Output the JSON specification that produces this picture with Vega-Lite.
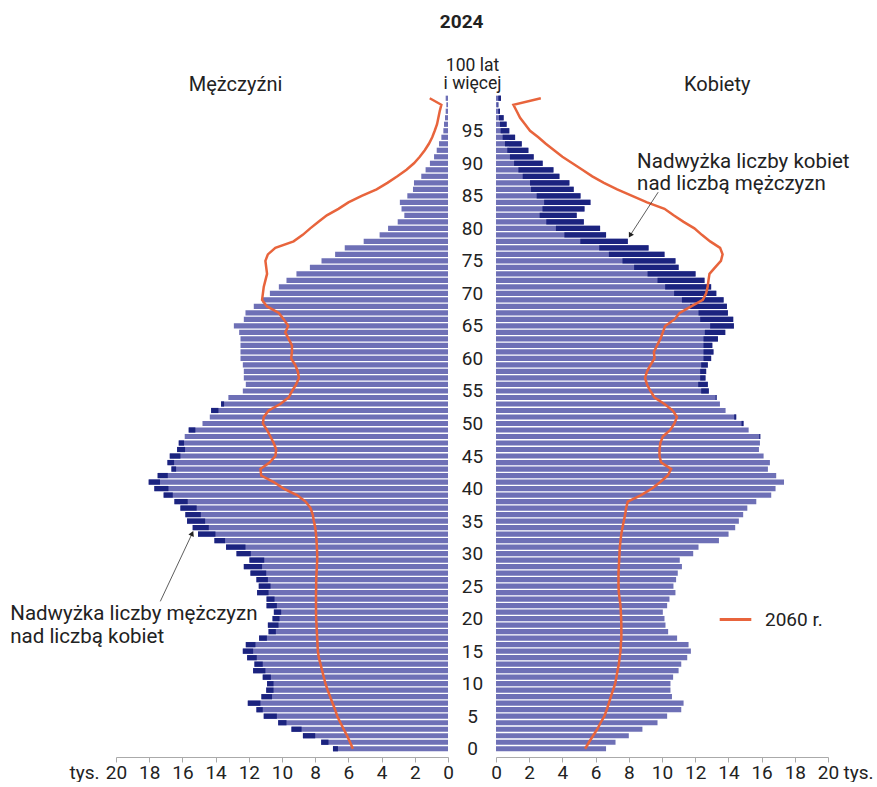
{
  "$schema": "https://vega.github.io/schema/vega-lite/v6.json",
  "padding": {"left": 10, "top": 13, "right": 2, "bottom": 0},
  "bounds": "flush",
  "spacing": 48,
  "title": {"text": "2024", "fontSize": 19, "fontWeight": "bold", "color": "#222", "anchor": "middle", "offset": 24, "dx": 20},
  "config": {"view": {"stroke": null}, "font": "Roboto"},
  "resolve": {"scale": {"x": "independent", "y": "independent", "color": "independent"}, "legend": {"color": "independent"}},
  "datasets": {
    "pop": [
      {"age":0,"m":6.93,"w":6.63,"m60":5.73,"w60":5.37},
      {"age":1,"m":7.64,"w":7.2,"m60":5.9,"w60":5.6},
      {"age":2,"m":8.74,"w":8.0,"m60":6.08,"w60":5.85},
      {"age":3,"m":9.43,"w":8.82,"m60":6.28,"w60":6.1},
      {"age":4,"m":10.23,"w":9.73,"m60":6.48,"w60":6.3},
      {"age":5,"m":11.1,"w":10.31,"m60":6.67,"w60":6.53},
      {"age":6,"m":11.54,"w":11.16,"m60":6.8,"w60":6.67},
      {"age":7,"m":12.06,"w":11.3,"m60":6.95,"w60":6.8},
      {"age":8,"m":11.24,"w":10.6,"m60":7.1,"w60":6.92},
      {"age":9,"m":10.95,"w":10.51,"m60":7.25,"w60":7.05},
      {"age":10,"m":10.9,"w":10.51,"m60":7.38,"w60":7.18},
      {"age":11,"m":11.16,"w":10.67,"m60":7.48,"w60":7.25},
      {"age":12,"m":11.74,"w":11.0,"m60":7.58,"w60":7.32},
      {"age":13,"m":11.66,"w":11.16,"m60":7.68,"w60":7.4},
      {"age":14,"m":12.1,"w":11.52,"m60":7.78,"w60":7.45},
      {"age":15,"m":12.36,"w":11.74,"m60":7.84,"w60":7.5},
      {"age":16,"m":12.18,"w":11.6,"m60":7.86,"w60":7.52},
      {"age":17,"m":11.38,"w":10.91,"m60":7.88,"w60":7.55},
      {"age":18,"m":10.81,"w":10.37,"m60":7.9,"w60":7.55},
      {"age":19,"m":10.85,"w":10.21,"m60":7.92,"w60":7.55},
      {"age":20,"m":10.57,"w":10.15,"m60":7.94,"w60":7.54},
      {"age":21,"m":10.49,"w":10.05,"m60":7.95,"w60":7.52},
      {"age":22,"m":10.93,"w":10.31,"m60":7.95,"w60":7.5},
      {"age":23,"m":10.93,"w":10.45,"m60":7.95,"w60":7.45},
      {"age":24,"m":11.5,"w":10.81,"m60":7.95,"w60":7.4},
      {"age":25,"m":11.4,"w":10.69,"m60":7.94,"w60":7.38},
      {"age":26,"m":11.54,"w":10.85,"m60":7.94,"w60":7.38},
      {"age":27,"m":11.9,"w":10.95,"m60":7.92,"w60":7.38},
      {"age":28,"m":12.3,"w":11.2,"m60":7.9,"w60":7.4},
      {"age":29,"m":11.96,"w":11.07,"m60":7.88,"w60":7.42},
      {"age":30,"m":12.74,"w":11.88,"m60":7.88,"w60":7.44},
      {"age":31,"m":13.37,"w":12.2,"m60":7.9,"w60":7.46},
      {"age":32,"m":14.07,"w":13.43,"m60":7.92,"w60":7.5},
      {"age":33,"m":15.06,"w":14.01,"m60":7.95,"w60":7.55},
      {"age":34,"m":15.38,"w":14.41,"m60":8.0,"w60":7.62},
      {"age":35,"m":15.72,"w":14.63,"m60":8.08,"w60":7.7},
      {"age":36,"m":15.82,"w":14.89,"m60":8.15,"w60":7.78},
      {"age":37,"m":16.12,"w":15.14,"m60":8.28,"w60":7.84},
      {"age":38,"m":16.48,"w":15.68,"m60":8.58,"w60":7.94},
      {"age":39,"m":17.13,"w":16.58,"m60":9.1,"w60":8.74},
      {"age":40,"m":17.69,"w":16.84,"m60":9.9,"w60":9.4},
      {"age":41,"m":18.03,"w":17.35,"m60":10.5,"w60":9.9},
      {"age":42,"m":17.49,"w":16.88,"m60":11.25,"w60":10.35},
      {"age":43,"m":16.66,"w":16.38,"m60":11.3,"w60":10.55},
      {"age":44,"m":16.9,"w":16.5,"m60":10.75,"w60":9.95},
      {"age":45,"m":16.76,"w":16.12,"m60":10.4,"w60":9.85},
      {"age":46,"m":16.32,"w":15.84,"m60":10.35,"w60":9.85},
      {"age":47,"m":16.22,"w":15.9,"m60":10.5,"w60":9.9},
      {"age":48,"m":15.86,"w":15.92,"m60":10.7,"w60":10.05},
      {"age":49,"m":15.62,"w":15.22,"m60":10.9,"w60":10.5},
      {"age":50,"m":14.79,"w":14.91,"m60":11.15,"w60":10.75},
      {"age":51,"m":14.35,"w":14.47,"m60":11.1,"w60":10.9},
      {"age":52,"m":14.27,"w":13.83,"m60":10.8,"w60":10.65},
      {"age":53,"m":13.67,"w":13.49,"m60":10.1,"w60":10.15},
      {"age":54,"m":13.23,"w":13.29,"m60":9.6,"w60":9.55},
      {"age":55,"m":12.36,"w":12.82,"m60":9.39,"w60":9.3},
      {"age":56,"m":12.18,"w":12.76,"m60":9.15,"w60":9.1},
      {"age":57,"m":12.3,"w":12.62,"m60":8.98,"w60":8.98},
      {"age":58,"m":12.3,"w":12.66,"m60":9.05,"w60":9.1},
      {"age":59,"m":12.36,"w":12.76,"m60":9.2,"w60":9.31},
      {"age":60,"m":12.5,"w":12.96,"m60":9.45,"w60":9.55},
      {"age":61,"m":12.5,"w":13.1,"m60":9.4,"w60":9.51},
      {"age":62,"m":12.5,"w":13.03,"m60":9.4,"w60":9.7},
      {"age":63,"m":12.5,"w":13.37,"m60":9.6,"w60":9.9},
      {"age":64,"m":12.58,"w":13.81,"m60":9.8,"w60":10.05},
      {"age":65,"m":12.9,"w":14.33,"m60":9.63,"w60":10.19},
      {"age":66,"m":12.3,"w":14.29,"m60":9.89,"w60":10.75},
      {"age":67,"m":12.2,"w":13.97,"m60":10.19,"w60":11.06},
      {"age":68,"m":11.7,"w":13.91,"m60":10.9,"w60":11.76},
      {"age":69,"m":11.2,"w":13.71,"m60":11.2,"w60":12.46},
      {"age":70,"m":10.73,"w":13.27,"m60":11.15,"w60":12.66},
      {"age":71,"m":10.19,"w":12.96,"m60":11.1,"w60":12.75},
      {"age":72,"m":9.73,"w":12.56,"m60":11.0,"w60":12.8},
      {"age":73,"m":9.13,"w":12.02,"m60":10.9,"w60":12.86},
      {"age":74,"m":8.32,"w":11.0,"m60":10.95,"w60":13.2},
      {"age":75,"m":7.62,"w":10.81,"m60":11.0,"w60":13.55},
      {"age":76,"m":6.8,"w":10.15,"m60":10.85,"w60":13.65},
      {"age":77,"m":6.22,"w":9.19,"m60":10.4,"w60":13.5},
      {"age":78,"m":5.08,"w":7.94,"m60":9.3,"w60":12.9},
      {"age":79,"m":4.12,"w":6.63,"m60":8.75,"w60":12.4},
      {"age":80,"m":3.61,"w":6.27,"m60":8.3,"w60":11.95},
      {"age":81,"m":3.03,"w":5.29,"m60":7.8,"w60":11.3},
      {"age":82,"m":2.63,"w":4.86,"m60":7.3,"w60":10.7},
      {"age":83,"m":2.8,"w":5.33,"m60":6.6,"w60":10.15},
      {"age":84,"m":2.9,"w":5.69,"m60":6.0,"w60":9.1},
      {"age":85,"m":2.45,"w":5.09,"m60":5.2,"w60":8.2},
      {"age":86,"m":2.11,"w":4.68,"m60":4.3,"w60":7.3},
      {"age":87,"m":2.05,"w":4.42,"m60":3.65,"w60":6.5},
      {"age":88,"m":1.61,"w":3.82,"m60":3.05,"w60":5.8},
      {"age":89,"m":1.35,"w":3.46,"m60":2.5,"w60":5.2},
      {"age":90,"m":1.09,"w":2.81,"m60":2.05,"w60":4.6},
      {"age":91,"m":0.84,"w":2.27,"m60":1.7,"w60":4.0},
      {"age":92,"m":0.68,"w":1.95,"m60":1.4,"w60":3.5},
      {"age":93,"m":0.54,"w":1.55,"m60":1.15,"w60":3.0},
      {"age":94,"m":0.4,"w":1.15,"m60":0.95,"w60":2.55},
      {"age":95,"m":0.28,"w":0.8,"m60":0.8,"w60":2.05},
      {"age":96,"m":0.24,"w":0.64,"m60":0.66,"w60":1.75},
      {"age":97,"m":0.18,"w":0.46,"m60":0.58,"w60":1.45},
      {"age":98,"m":0.14,"w":0.24,"m60":0.5,"w60":1.25},
      {"age":99,"m":0.1,"w":0.14,"m60":0.4,"w60":1.05},
      {"age":100,"m":0.14,"w":0.3,"m60":1.1,"w60":2.7}
    ]
  },
  "hconcat": [
    {
      "width": 332,
      "height": 667,
      "data": {"name": "pop"},
      "layer": [
        {
          "mark": {"type": "bar", "orient": "horizontal", "size": 5.2, "color": "#6e70b6"},
          "encoding": {
            "x": {"field": "m", "type": "quantitative", "stack": null,
                  "scale": {"domain": [0, 20], "reverse": true, "nice": false},
                  "axis": {"values": [0,2,4,6,8,10,12,14,16,18,20], "tickCount": 40, "format": "d", "grid": false, "labelFlush": false, "labelOverlap": false,
                           "labelFontSize": 19, "labelColor": "#222", "labelPadding": 1, "tickSize": 5,
                           "domainColor": "#aaa", "tickColor": "#aaa",
                           "title": "tys.", "titleX": -32, "titleY": 6, "titleAlign": "center", "titleBaseline": "top",
                           "titleFontSize": 19, "titleFontWeight": "normal", "titleColor": "#222"}},
            "y": {"field": "age", "type": "quantitative", "scale": {"domain": [-0.5, 100.5], "nice": false, "zero": false}, "axis": null}
          }
        },
        {
          "transform": [{"filter": "datum.m > datum.w"}],
          "mark": {"type": "bar", "orient": "horizontal", "size": 5.2, "color": "#1b237f"},
          "encoding": {
            "x": {"field": "w", "type": "quantitative"},
            "x2": {"field": "m"},
            "y": {"field": "age", "type": "quantitative", "axis": null}
          }
        },
        {
          "mark": {"type": "line", "color": "#e8643c", "strokeWidth": 2.5},
          "encoding": {
            "x": {"field": "m60", "type": "quantitative"},
            "y": {"field": "age", "type": "quantitative", "axis": null},
            "order": {"field": "age", "type": "quantitative"}
          }
        },
        {
          "data": {"values": [{}]},
          "mark": {"type": "text", "text": "Mężczyźni", "align": "center", "baseline": "middle", "fontSize": 20, "color": "#222"},
          "encoding": {"x": {"datum": 12.8, "type": "quantitative"}, "y": {"datum": 102.0, "type": "quantitative", "axis": null}}
        },
        {
          "data": {"values": [{}]},
          "mark": {"type": "text", "text": ["Nadwyżka liczby mężczyzn", "nad liczbą kobiet"], "align": "left", "baseline": "middle", "fontSize": 20.5, "lineHeight": 23, "color": "#222"},
          "encoding": {"x": {"datum": 26.37, "type": "quantitative"}, "y": {"datum": 20.7, "type": "quantitative", "axis": null}}
        },
        {
          "data": {"values": [{}]},
          "mark": {"type": "rule", "color": "#333", "strokeWidth": 0.8},
          "encoding": {"x": {"datum": 17.33, "type": "quantitative"}, "x2": {"datum": 15.41}, "y": {"datum": 22.66, "type": "quantitative", "axis": null}, "y2": {"datum": 33.1}}
        },
        {
          "data": {"values": [{}]},
          "mark": {"type": "point", "shape": "triangle-up", "angle": 25, "size": 35, "filled": true, "color": "#222", "opacity": 1},
          "encoding": {"x": {"datum": 15.41, "type": "quantitative"}, "y": {"datum": 33.1, "type": "quantitative", "axis": null}}
        }
      ]
    },
    {
      "width": 332,
      "height": 667,
      "data": {"name": "pop"},
      "layer": [
        {
          "mark": {"type": "bar", "orient": "horizontal", "size": 5.2, "color": "#6e70b6"},
          "encoding": {
            "x": {"field": "w", "type": "quantitative", "stack": null,
                  "scale": {"domain": [0, 20], "nice": false},
                  "axis": {"values": [0,2,4,6,8,10,12,14,16,18,20], "tickCount": 40, "format": "d", "grid": false, "labelFlush": false, "labelOverlap": false,
                           "labelFontSize": 19, "labelColor": "#222", "labelPadding": 1, "tickSize": 5,
                           "domainColor": "#aaa", "tickColor": "#aaa",
                           "title": "tys.", "titleX": 362, "titleY": 6, "titleAlign": "center", "titleBaseline": "top",
                           "titleFontSize": 19, "titleFontWeight": "normal", "titleColor": "#222"}},
            "y": {"field": "age", "type": "quantitative", "scale": {"domain": [-0.5, 100.5], "nice": false, "zero": false},
                  "axis": {"orient": "left", "values": [0,5,10,15,20,25,30,35,40,45,50,55,60,65,70,75,80,85,90,95], "tickCount": 40, "format": "d",
                           "domain": false, "ticks": false, "tickSize": 0, "grid": false, "labelOverlap": false,
                           "labelAlign": "center", "labelBaseline": "middle", "labelPadding": 24, "labelFontSize": 19, "labelColor": "#222",
                           "title": ["100 lat", "i więcej"], "titleAngle": 0, "titleX": -24, "titleY": -16,
                           "titleAlign": "center", "titleBaseline": "bottom", "titleFontSize": 17.5, "titleFontWeight": "normal",
                           "titleLineHeight": 18.5, "titleColor": "#222"}}
          }
        },
        {
          "transform": [{"filter": "datum.w > datum.m"}],
          "mark": {"type": "bar", "orient": "horizontal", "size": 5.2, "color": "#1b237f"},
          "encoding": {
            "x": {"field": "m", "type": "quantitative"},
            "x2": {"field": "w"},
            "y": {"field": "age", "type": "quantitative"}
          }
        },
        {
          "mark": {"type": "line", "strokeWidth": 2.5},
          "encoding": {
            "x": {"field": "w60", "type": "quantitative"},
            "y": {"field": "age", "type": "quantitative"},
            "order": {"field": "age", "type": "quantitative"},
            "color": {"datum": "2060 r.", "type": "nominal", "scale": {"range": ["#e8643c"]},
                      "legend": {"orient": "none", "legendX": 222, "legendY": 512, "title": null, "symbolType": "stroke",
                                 "symbolSize": 1000, "symbolStrokeWidth": 3, "labelFontSize": 19, "labelOffset": 12,
                                 "labelColor": "#222", "padding": 0}}
          }
        },
        {
          "data": {"values": [{}]},
          "mark": {"type": "text", "text": "Kobiety", "align": "center", "baseline": "middle", "fontSize": 20, "color": "#222"},
          "encoding": {"x": {"datum": 13.33, "type": "quantitative"}, "y": {"datum": 102.0, "type": "quantitative"}}
        },
        {
          "data": {"values": [{}]},
          "mark": {"type": "text", "text": ["Nadwyżka liczby kobiet", "nad liczbą mężczyzn"], "align": "left", "baseline": "middle", "fontSize": 20.5, "lineHeight": 22, "color": "#222"},
          "encoding": {"x": {"datum": 8.5, "type": "quantitative"}, "y": {"datum": 90.2, "type": "quantitative"}}
        },
        {
          "data": {"values": [{}]},
          "mark": {"type": "rule", "color": "#333", "strokeWidth": 0.8},
          "encoding": {"x": {"datum": 9.77, "type": "quantitative"}, "x2": {"datum": 8.08}, "y": {"datum": 85.56, "type": "quantitative"}, "y2": {"datum": 78.92}}
        },
        {
          "data": {"values": [{}]},
          "mark": {"type": "point", "shape": "triangle-up", "angle": 210, "size": 35, "filled": true, "color": "#222", "opacity": 1},
          "encoding": {"x": {"datum": 8.08, "type": "quantitative"}, "y": {"datum": 78.92, "type": "quantitative"}}
        }
      ]
    }
  ]
}
